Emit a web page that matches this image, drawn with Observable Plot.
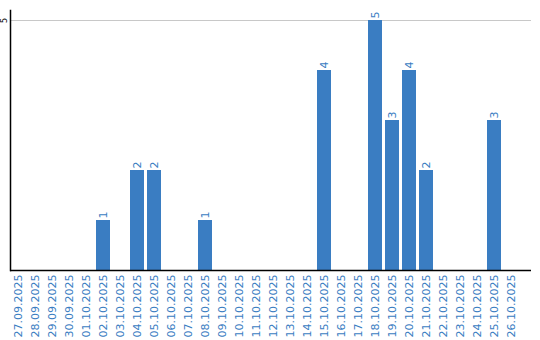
<!DOCTYPE html>
<html>
<head>
<meta charset="utf-8">
<script src="https://cdn.jsdelivr.net/npm/d3@7"></script>
<script src="https://cdn.jsdelivr.net/npm/@observablehq/plot@0.6"></script>
<style>
  html, body { margin: 0; padding: 0; background: #fff; }
  #chart svg { display: block; }
</style>
</head>
<body>
<div id="chart"></div>
<script>
const dates = [
  "27.09.2025","28.09.2025","29.09.2025","30.09.2025","01.10.2025","02.10.2025",
  "03.10.2025","04.10.2025","05.10.2025","06.10.2025","07.10.2025","08.10.2025",
  "09.10.2025","10.10.2025","11.10.2025","12.10.2025","13.10.2025","14.10.2025",
  "15.10.2025","16.10.2025","17.10.2025","18.10.2025","19.10.2025","20.10.2025",
  "21.10.2025","22.10.2025","23.10.2025","24.10.2025","25.10.2025","26.10.2025"
];
const counts = [0,0,0,0,0,1, 0,2,2,0,0,1, 0,0,0,0,0,0, 4,0,0,5,3,4, 2,0,0,0,3,0];
const yTicks = [5];

const blue = "#3a7dc2";
const data = dates.map((d, i) => ({date: d, value: counts[i]}));
const nonZero = data.filter(d => d.value > 0);

const chart = Plot.plot({
  width: 540,
  height: 340,
  marginTop: 10,
  marginBottom: 70,
  marginLeft: 10,
  marginRight: 9,
  style: {fontFamily: "DejaVu Sans", fontSize: "11px", background: "#fff"},
  x: {type: "band", domain: dates, range: [11, 518], paddingInner: 3/17, paddingOuter: 0, label: null},
  y: {domain: [0, 5.2], label: null},
  marks: [
    Plot.gridY(yTicks, {stroke: "#c8c8c8", strokeOpacity: 1}),
    Plot.barY(nonZero, {x: "date", y: "value", fill: blue}),
    Plot.text(nonZero, {x: "date", y: "value", text: d => String(d.value), rotate: -90, textAnchor: "start", dy: -2, fill: blue, fontSize: 11}),
    Plot.axisX({tickSize: 0, tickPadding: 4, tickRotate: -90, fill: blue, fontSize: 11, label: null}),
    Plot.axisY(yTicks, {tickSize: 0, tickPadding: 4, tickRotate: -90, textAnchor: "middle", tickFormat: d => String(d), fontSize: 8, fill: "#000", label: null}),
    Plot.ruleY([0], {stroke: "#000", strokeWidth: 1.5}),
    Plot.frame({anchor: "left", stroke: "#000", strokeWidth: 1.5})
  ]
});
document.getElementById("chart").appendChild(chart);
</script>
</body>
</html>
